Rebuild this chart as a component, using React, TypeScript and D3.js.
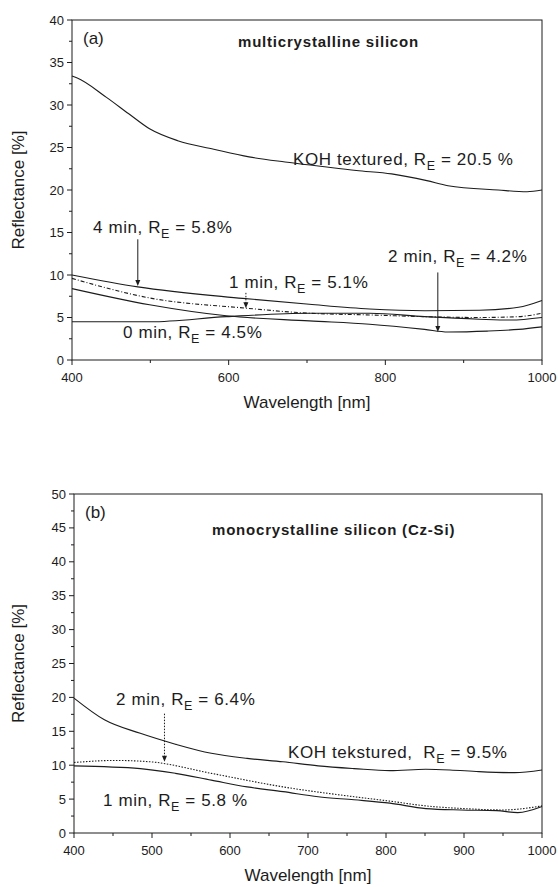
import React from "react";
import * as d3 from "d3";

// (a) multicrystalline silicon
const wlKohA = [400, 406, 444, 472, 499, 535, 581, 626, 672, 717, 763, 808, 853, 880, 944, 981, 1000];
const rKohA = [33.4, 33.2, 30.9, 29.0, 27.2, 25.8, 24.8, 23.9, 23.3, 22.8, 22.3, 21.9, 21.1, 20.5, 20.0, 19.8, 20.0];
const wl4minA = [400, 484, 618, 703, 780, 850, 920, 970, 1000];
const r4minA = [10.0, 8.6, 7.25, 6.55, 6.0, 5.8, 5.85, 6.2, 7.0];
const wl1minA = [400, 499, 622, 703, 780, 850, 920, 970, 1000];
const r1minA = [9.6, 7.3, 6.1, 5.5, 5.3, 5.1, 5.0, 5.1, 5.5];
const wl2minA = [400, 499, 597, 703, 780, 850, 880, 930, 970, 1000];
const r2minA = [8.4, 6.5, 5.2, 4.6, 4.2, 3.6, 3.3, 3.4, 3.6, 3.9];
const wl0minA = [400, 500, 597, 703, 780, 850, 920, 960, 1000];
const r0minA = [4.5, 4.5, 5.1, 5.5, 5.5, 5.1, 4.8, 4.7, 5.0];

// (b) monocrystalline silicon (Cz-Si)
const wlKohB = [400, 439, 485, 530, 576, 622, 668, 713, 759, 805, 851, 882, 919, 965, 1000];
const rKohB = [19.9, 16.7, 14.7, 13.1, 11.75, 11.0, 10.5, 9.9, 9.5, 9.2, 9.4, 9.3, 9.05, 8.9, 9.3];
const wl1minB = [400, 485, 530, 576, 622, 668, 713, 759, 805, 851, 896, 942, 969, 1000];
const r1minB = [9.9, 9.5, 8.8, 7.8, 6.8, 6.1, 5.35, 4.9, 4.4, 3.6, 3.4, 3.3, 3.0, 3.9];
const wl2minB = [400, 453, 498, 576, 668, 759, 805, 851, 900, 950, 1000];
const r2minB = [10.4, 10.7, 10.5, 8.8, 6.8, 5.35, 4.7, 4.0, 3.6, 3.4, 4.0];

const xTicksA = [400, 600, 800, 1000];
const xMinorA = [500, 700, 900];
const xTicksB = [400, 500, 600, 700, 800, 900, 1000];
const xMinorB = [450, 550, 650, 750, 850, 950];

const FONT = "'Liberation Sans', Arial, Helvetica, sans-serif";
const INK = "#1c1c1c";

type Series = { wl: number[]; r: number[]; dash?: string };
type Note = { x: number; y: number; pre: string; post: string };
type Arrow = { wl: number; from: number; to: number; dash?: string };

const panels = [
  {
    left: 72, right: 542, top: 20, bottom: 360, yMax: 40,
    xTicks: xTicksA, xMinor: xMinorA,
    tag: "(a)", title: "multicrystalline silicon", titleX: 238, titleY: 47,
    series: [
      { wl: wlKohA, r: rKohA },
      { wl: wl4minA, r: r4minA },
      { wl: wl1minA, r: r1minA, dash: "4,2,1,2" },
      { wl: wl2minA, r: r2minA },
      { wl: wl0minA, r: r0minA },
    ] as Series[],
    notes: [
      { x: 293, y: 165, pre: "KOH textured, R", post: " = 20.5 %" },
      { x: 93, y: 233, pre: "4 min, R", post: " = 5.8%" },
      { x: 229, y: 288, pre: "1 min, R", post: " = 5.1%" },
      { x: 388, y: 262, pre: "2 min, R", post: " = 4.2%" },
      { x: 123, y: 338, pre: "0 min, R", post: " = 4.5%" },
    ] as Note[],
    arrows: [
      { wl: 484, from: 14.2, to: 8.7 },
      { wl: 622, from: 7.9, to: 6.1, dash: "1.5,1.5" },
      { wl: 867, from: 10.3, to: 3.3 },
    ] as Arrow[],
  },
  {
    left: 74, right: 542, top: 494, bottom: 833, yMax: 50,
    xTicks: xTicksB, xMinor: xMinorB,
    tag: "(b)", title: "monocrystalline silicon (Cz-Si)", titleX: 212, titleY: 535,
    series: [
      { wl: wlKohB, r: rKohB },
      { wl: wl1minB, r: r1minB },
      { wl: wl2minB, r: r2minB, dash: "1.5,1.5" },
    ] as Series[],
    notes: [
      { x: 116, y: 705, pre: "2 min, R", post: " = 6.4%" },
      { x: 288, y: 758, pre: "KOH tekstured,  R", post: " = 9.5%" },
      { x: 103, y: 806, pre: "1 min, R", post: " = 5.8 %" },
    ] as Note[],
    arrows: [{ wl: 516, from: 17.6, to: 10.5, dash: "1.5,1.5" }] as Arrow[],
  },
];

function Label({ x, y, pre, post }: Note) {
  return (
    <text x={x} y={y} fontSize={17} letterSpacing={0.6} fill={INK} fontFamily={FONT}
      style={{ whiteSpace: "pre" }}>
      <tspan>{pre}</tspan>
      <tspan dy={5} fontSize={12.5}>E</tspan>
      <tspan dy={-5}>{post}</tspan>
    </text>
  );
}

function Panel({ p }: { p: (typeof panels)[number] }) {
  const x = d3.scaleLinear().domain([400, 1000]).range([p.left, p.right]);
  const y = d3.scaleLinear().domain([0, p.yMax]).range([p.bottom, p.top]);
  const yTicks = d3.range(0, p.yMax + 0.1, 5);
  const yMinor = d3.range(2.5, p.yMax, 5);
  const line = d3
    .line<[number, number]>()
    .x((d) => x(d[0]))
    .y((d) => y(d[1]))
    .curve(d3.curveMonotoneX);
  const midY = (p.top + p.bottom) / 2;
  const midX = (p.left + p.right) / 2;

  return (
    <g fontFamily={FONT} fill={INK}>
      <rect x={p.left} y={p.top} width={p.right - p.left} height={p.bottom - p.top}
        fill="none" stroke={INK} strokeWidth={1} />
      {yTicks.map((t) => (
        <g key={"y" + t}>
          <line x1={p.left - 5} x2={p.left} y1={y(t)} y2={y(t)} stroke={INK} />
          <text x={p.left - 8} y={y(t) + 4.5} fontSize={13} textAnchor="end">{t}</text>
        </g>
      ))}
      {yMinor.map((t) => (
        <line key={"ym" + t} x1={p.left - 3} x2={p.left} y1={y(t)} y2={y(t)} stroke={INK} />
      ))}
      {p.xTicks.map((t) => (
        <g key={"x" + t}>
          <line x1={x(t)} x2={x(t)} y1={p.bottom} y2={p.bottom + 5} stroke={INK} />
          <text x={x(t)} y={p.bottom + 22} fontSize={13} textAnchor="middle">{t}</text>
        </g>
      ))}
      {p.xMinor.map((t) => (
        <line key={"xm" + t} x1={x(t)} x2={x(t)} y1={p.bottom} y2={p.bottom + 3} stroke={INK} />
      ))}
      <text x={midX} y={p.bottom + 48} fontSize={17} textAnchor="middle">Wavelength [nm]</text>
      <text transform={`translate(24,${midY}) rotate(-90)`} fontSize={17} textAnchor="middle">
        Reflectance [%]
      </text>
      <text x={p.left + 11} y={p.top + 24} fontSize={17}>{p.tag}</text>
      <text x={p.titleX} y={p.titleY} fontSize={15} letterSpacing={0.8} fontWeight="bold">{p.title}</text>

      {p.series.map((s, i) => (
        <path key={"s" + i}
          d={line(s.wl.map((w, j) => [w, s.r[j]] as [number, number])) || ""}
          fill="none" stroke={INK} strokeWidth={1.1} strokeDasharray={s.dash} />
      ))}
      {p.arrows.map((a, i) => (
        <g key={"a" + i}>
          <line x1={x(a.wl)} x2={x(a.wl)} y1={y(a.from)} y2={y(a.to) - 5}
            stroke={INK} strokeWidth={1} strokeDasharray={a.dash} />
          <path d={`M${x(a.wl) - 2.5},${y(a.to) - 6}L${x(a.wl) + 2.5},${y(a.to) - 6}L${x(a.wl)},${y(a.to)}Z`}
            fill={INK} />
        </g>
      ))}
      {p.notes.map((n, i) => <Label key={"n" + i} {...n} />)}
    </g>
  );
}

export default function App() {
  return (
    <svg width={558} height={887} viewBox="0 0 558 887"
      style={{ position: "absolute", left: 0, top: 0, background: "#fff" }}>
      <rect width={558} height={887} fill="#fff" />
      {panels.map((p, i) => <Panel key={i} p={p} />)}
    </svg>
  );
}
